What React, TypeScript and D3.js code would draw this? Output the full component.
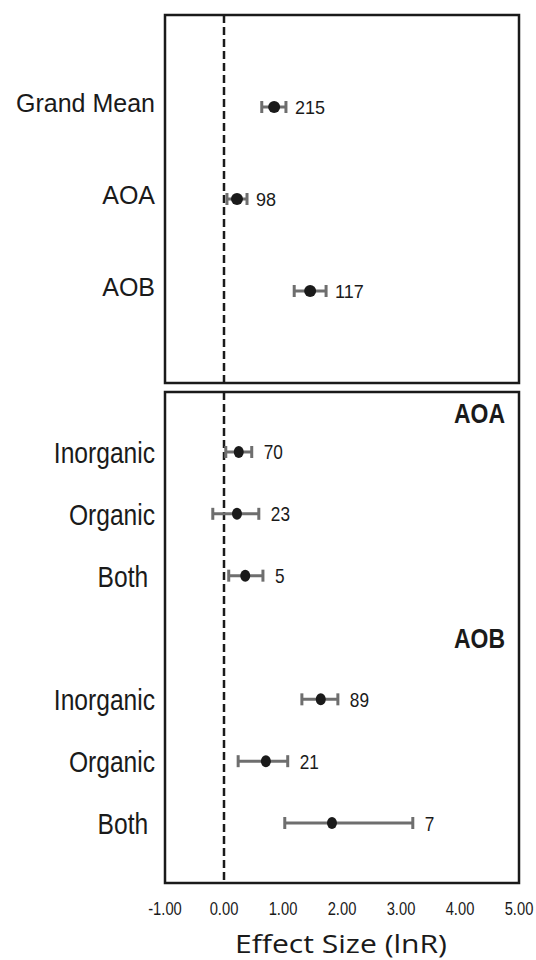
import React from 'react';
import * as d3 from 'd3';

// Overall effect sizes (top panel)
const overallLabels = ['Grand Mean', 'AOA', 'AOB'];
const overallMean = [0.85, 0.22, 1.46];
const overallLow = [0.64, 0.05, 1.19];
const overallHigh = [1.05, 0.39, 1.73];
const overallN = [215, 98, 117];

// Sub-group effect sizes (bottom panel)
const groups = ['AOA', 'AOB'];
const fertTypes = ['Inorganic', 'Organic', 'Both'];
const aoaMean = [0.25, 0.22, 0.36];
const aoaLow = [0.03, -0.19, 0.08];
const aoaHigh = [0.47, 0.59, 0.66];
const aoaN = [70, 23, 5];
const aobMean = [1.64, 0.71, 1.83];
const aobLow = [1.32, 0.24, 1.03];
const aobHigh = [1.93, 1.08, 3.2];
const aobN = [89, 21, 7];

const xTicks = [-1, 0, 1, 2, 3, 4, 5];
const xTitle = 'Effect Size (lnR)';

const SANS = '"Liberation Sans", Arial, Helvetica, sans-serif';
const BAR = '#6e6e6e';
const INK = '#1a1a1a';

const fmtTick = (t: number) => d3.format('.2f')(t).replace('\u2212', '-');

export default function App() {
  const W = 536;
  const H = 960;
  const x = d3.scaleLinear().domain([-1, 5]).range([165, 519]);
  const topY0 = 15, topY1 = 383;
  const botY0 = 392, botY1 = 883;
  const yTop = d3.scalePoint<string>().domain(overallLabels).range([topY0, topY1]).padding(1);
  const yBot = d3.scaleLinear().domain([-0.97, 6.97]).range([botY0, botY1]);

  const topRows = overallLabels.map((l, i) => ({
    label: l, m: overallMean[i], lo: overallLow[i], hi: overallHigh[i], n: overallN[i], y: yTop(l) as number,
  }));
  const subData = [
    { mean: aoaMean, low: aoaLow, high: aoaHigh, n: aoaN },
    { mean: aobMean, low: aobLow, high: aobHigh, n: aobN },
  ];
  const botRows = groups.flatMap((g, gi) =>
    fertTypes.map((f, i) => ({
      label: f, m: subData[gi].mean[i], lo: subData[gi].low[i], hi: subData[gi].high[i], n: subData[gi].n[i],
      y: yBot(gi * 4 + i),
    }))
  );
  const headerSlots = [-0.63, 3];

  const zeroX = x(0);
  const cap = 6;

  const errorBar = (r: any, key: string, ry: number, rx: number) => (
    <g key={key}>
      <line x1={x(r.lo)} x2={x(r.hi)} y1={r.y} y2={r.y} stroke={BAR} strokeWidth={3} />
      <line x1={x(r.lo)} x2={x(r.lo)} y1={r.y - cap} y2={r.y + cap} stroke={BAR} strokeWidth={3} />
      <line x1={x(r.hi)} x2={x(r.hi)} y1={r.y - cap} y2={r.y + cap} stroke={BAR} strokeWidth={3} />
      <ellipse cx={x(r.m)} cy={r.y} rx={rx} ry={ry} fill={INK} />
    </g>
  );

  return (
    <svg width={W} height={H} style={{ position: 'absolute', left: 0, top: 0, background: '#fff' }}>
      {/* zero reference lines */}
      <line x1={zeroX} x2={zeroX} y1={topY0} y2={topY1} stroke={INK} strokeWidth={2.5} strokeDasharray="8,4" />
      <line x1={zeroX} x2={zeroX} y1={botY0} y2={botY1} stroke={INK} strokeWidth={2.5} strokeDasharray="8,4" />

      {/* top panel */}
      {topRows.map((r, i) => (
        <g key={'t' + i}>
          {errorBar(r, 'tb' + i, 6, 6)}
          <text x={x(r.hi) + 9} y={r.y + 6.5} fontFamily={SANS} fontSize={18} fill={INK}>{r.n}</text>
          <text x={155} y={r.y + 5} textAnchor="end" fontFamily={SANS} fontSize={25} fill={INK}>{r.label}</text>
        </g>
      ))}

      {/* bottom panel */}
      {groups.map((g, gi) => (
        <text key={'h' + gi} transform={`translate(505,${yBot(headerSlots[gi]) + 10}) scale(0.82,1)`}
          textAnchor="end" fontFamily={SANS} fontWeight="bold" fontSize={28} fill={INK}>{g}</text>
      ))}
      {botRows.map((r, i) => (
        <g key={'b' + i}>
          {errorBar(r, 'bb' + i, 6, 5)}
          <text transform={`translate(${x(r.hi) + 12},${r.y + 7.5}) scale(0.82,1)`} fontFamily={SANS} fontSize={21} fill={INK}>{r.n}</text>
          <text transform={`translate(155,${r.y + 11}) scale(0.82,1)`} textAnchor="end" fontFamily={SANS} fontSize={30} fill={INK}>
            {r.label === 'Both' ? 'Both\u00a0' : r.label}
          </text>
        </g>
      ))}

      {/* panel frames */}
      <rect x={x(-1)} y={topY0} width={x(5) - x(-1)} height={topY1 - topY0} fill="none" stroke={INK} strokeWidth={2.5} />
      <rect x={x(-1)} y={botY0} width={x(5) - x(-1)} height={botY1 - botY0} fill="none" stroke={INK} strokeWidth={2.5} />

      {/* x axis ticks */}
      {xTicks.map((t) => (
        <text key={'x' + t} transform={`translate(${x(t)},915) scale(0.82,1)`} textAnchor="middle"
          fontFamily={SANS} fontSize={18} fill={INK}>{fmtTick(t)}</text>
      ))}
      <text x={341} y={953} textAnchor="middle" fontFamily={'"Open Sans", "Noto Sans", sans-serif'} fontSize={25}
        textLength={212} lengthAdjust="spacingAndGlyphs" fill={INK}>{xTitle}</text>
    </svg>
  );
}
